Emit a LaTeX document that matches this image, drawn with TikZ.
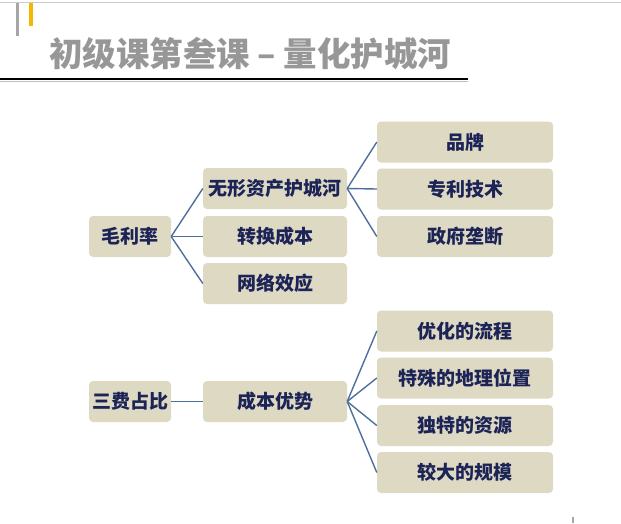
\documentclass[tikz,border=0pt]{standalone}
\usepackage{fontspec}
\setmainfont{Noto Sans CJK SC}
\usepackage{tikz}
\usetikzlibrary{positioning}
\definecolor{boxtan}{HTML}{DDD9C3}
\definecolor{boxtext}{HTML}{1C2356}
\definecolor{linkblue}{HTML}{4E6E9C}
\definecolor{titlegray}{HTML}{979797}
\definecolor{baryellow}{HTML}{F5B800}

\begin{document}
\begin{tikzpicture}[x=1pt, y=-1pt,
    tagbox/.style={rounded corners=4pt, fill=boxtan, draw=none,
        minimum height=41pt, font=\fontsize{19}{21}\selectfont\bfseries,
        text=boxtext, inner sep=0pt},
    rootbox/.style={tagbox, minimum width=82pt},
    midbox/.style={tagbox, minimum width=144pt},
    leafbox/.style={tagbox, minimum width=176pt},
    link/.style={draw=linkblue, line width=1.4pt}
]
    \useasboundingbox (0,0) rectangle (621,523);

    %% Header
    \draw[gray!40, line width=1pt] (0,2) -- (621,2);
    \fill[gray!70] (15.5,3) rectangle (19,36);
    \fill[baryellow] (29,3) rectangle (33,26);
    \node[font=\fontsize{33.5}{36}\selectfont\bfseries, text=titlegray,
          anchor=west, inner sep=0pt] (title) at (49,54)
          {初级课第叁课 – 量化护城河};
    \draw[gray!50, line width=1.5pt] (0,81.5) -- (468,81.5);
    \draw[black, line width=1.8pt] (0,79) -- (468,79);

    %% Nodes
        \node[rootbox] (gross) at (130,236.5) {毛利率};
        \node[midbox] (intang) at (275,188.5) {无形资产护城河};
        \node[midbox] (switch) at (275,236.5) {转换成本};
        \node[midbox] (network) at (275,283.5) {网络效应};
        \node[leafbox] (brand) at (465,142) {品牌};
        \node[leafbox] (patent) at (465,189) {专利技术};
        \node[leafbox] (govt) at (465,236.5) {政府垄断};

        \node[rootbox] (expense) at (130,401.5) {三费占比};
        \node[midbox] (costadv) at (275,401.5) {成本优势};
        \node[leafbox] (process) at (465,331) {优化的流程};
        \node[leafbox] (location) at (465,378) {特殊的地理位置};
        \node[leafbox] (resource) at (465,425.5) {独特的资源};
        \node[leafbox] (scale) at (465,472.5) {较大的规模};

    %% Edges
        \foreach \t in {intang, switch, network}
            \draw[link] (gross.east) -- (\t.west);
        \foreach \t in {brand, patent, govt}
            \draw[link] (intang.east) -- (\t.west);
        \draw[link] (expense.east) -- (costadv.west);
        \foreach \t in {process, location, resource, scale}
            \draw[link] (costadv.east) -- (\t.west);

    %% Corner mark
    \fill[gray!70] (572,517) rectangle (574,523);
\end{tikzpicture}
\end{document}
